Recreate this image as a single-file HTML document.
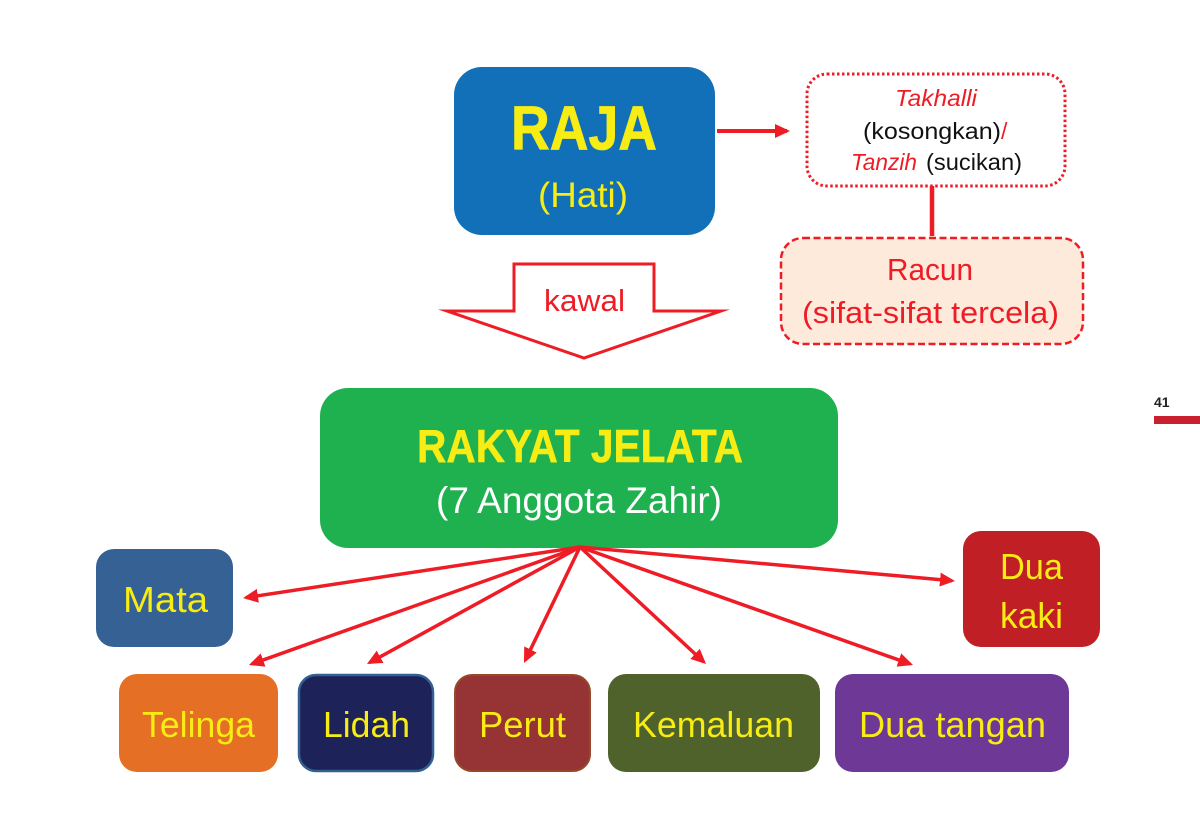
<!DOCTYPE html>
<html>
<head>
<meta charset="utf-8">
<style>
html,body{margin:0;padding:0;background:#fff;width:1200px;height:834px;overflow:hidden}
svg{display:block}
text{font-family:"Liberation Sans",sans-serif}
</style>
</head>
<body>
<svg width="1200" height="834" viewBox="0 0 1200 834" xmlns="http://www.w3.org/2000/svg">
<defs>
<marker id="h" markerUnits="userSpaceOnUse" markerWidth="16" markerHeight="14" refX="12" refY="7" orient="auto">
<polygon points="0,0 15,7 0,14" fill="#ee1c25"/>
</marker>
</defs>

<rect x="454" y="67" width="261" height="168" rx="28" fill="#1170b8"/>
<text x="511" y="149.5" font-size="62" font-weight="bold" fill="#f7ec13" stroke="#f7ec13" stroke-width="0.8" textLength="146" lengthAdjust="spacingAndGlyphs">RAJA</text>
<text x="538" y="207" font-size="35" fill="#f7ec13" textLength="90" lengthAdjust="spacingAndGlyphs">(Hati)</text>

<line x1="717" y1="131" x2="787" y2="131" stroke="#ee1c25" stroke-width="4" marker-end="url(#h)"/>

<rect x="807" y="74" width="258" height="112" rx="20" fill="#fff" stroke="#ee1c25" stroke-width="3" stroke-dasharray="2.5 2.5"/>
<text x="895" y="106" font-size="23" font-style="italic" fill="#ee1c25" textLength="82" lengthAdjust="spacingAndGlyphs">Takhalli</text>
<text x="863" y="139" font-size="23" fill="#111" textLength="138" lengthAdjust="spacingAndGlyphs">(kosongkan)</text>
<text x="1001" y="139" font-size="23" fill="#ee1c25">/</text>
<text x="851" y="170" font-size="23" font-style="italic" fill="#ee1c25" textLength="66" lengthAdjust="spacingAndGlyphs">Tanzih</text>
<text x="926" y="170" font-size="23" fill="#111" textLength="96" lengthAdjust="spacingAndGlyphs">(sucikan)</text>

<line x1="932" y1="186" x2="932" y2="236" stroke="#ee1c25" stroke-width="4.5"/>

<rect x="781" y="238" width="302" height="106" rx="22" fill="#fdeada" stroke="#ee1c25" stroke-width="2.5" stroke-dasharray="7 3.5"/>
<text x="887" y="280" font-size="31" fill="#ee1c25" textLength="86" lengthAdjust="spacingAndGlyphs">Racun</text>
<text x="802" y="323" font-size="31" fill="#ee1c25" textLength="257" lengthAdjust="spacingAndGlyphs">(sifat-sifat tercela)</text>

<polygon points="514,264 654,264 654,311 721,311 584,358 447,311 514,311" fill="#fff" stroke="#ee1c25" stroke-width="3" stroke-miterlimit="10"/>
<text x="544" y="311" font-size="31" fill="#ee1c25" textLength="81" lengthAdjust="spacingAndGlyphs">kawal</text>

<rect x="320" y="388" width="518" height="160" rx="28" fill="#1fb050"/>
<text x="417" y="462" font-size="46" font-weight="bold" fill="#f7ec13" stroke="#f7ec13" stroke-width="0.5" textLength="326" lengthAdjust="spacingAndGlyphs">RAKYAT JELATA</text>
<text x="436" y="513" font-size="37" fill="#fff" textLength="286" lengthAdjust="spacingAndGlyphs">(7 Anggota Zahir)</text>

<rect x="96" y="549" width="137" height="98" rx="18" fill="#356195"/>
<text x="123" y="612" font-size="36" fill="#f7ec13" textLength="85" lengthAdjust="spacingAndGlyphs">Mata</text>

<rect x="963" y="531" width="137" height="116" rx="18" fill="#c01f26"/>
<text x="1000" y="579" font-size="36" fill="#f7ec13" textLength="63" lengthAdjust="spacingAndGlyphs">Dua</text>
<text x="1000" y="628" font-size="36" fill="#f7ec13" textLength="63" lengthAdjust="spacingAndGlyphs">kaki</text>

<rect x="119" y="674" width="159" height="98" rx="18" fill="#e46f25"/>
<text x="142" y="737" font-size="36" fill="#f7ec13" textLength="113" lengthAdjust="spacingAndGlyphs">Telinga</text>

<rect x="299" y="675" width="134" height="96" rx="17" fill="#1d2359" stroke="#335f91" stroke-width="2.5"/>
<text x="323" y="737" font-size="36" fill="#f7ec13" textLength="87" lengthAdjust="spacingAndGlyphs">Lidah</text>

<rect x="455" y="675" width="135" height="96" rx="17" fill="#953335" stroke="#95492a" stroke-width="2"/>
<text x="479" y="737" font-size="36" fill="#f7ec13" textLength="87" lengthAdjust="spacingAndGlyphs">Perut</text>

<rect x="608" y="674" width="212" height="98" rx="18" fill="#4f622c"/>
<text x="633" y="737" font-size="36" fill="#f7ec13" textLength="161" lengthAdjust="spacingAndGlyphs">Kemaluan</text>

<rect x="835" y="674" width="234" height="98" rx="18" fill="#6d3896"/>
<text x="859" y="737" font-size="36" fill="#f7ec13" textLength="187" lengthAdjust="spacingAndGlyphs">Dua tangan</text>

<g stroke="#ee1c25" stroke-width="3.5" fill="none">
<line x1="580" y1="547" x2="246" y2="597.6" marker-end="url(#h)"/>
<line x1="580" y1="547" x2="251.8" y2="664" marker-end="url(#h)"/>
<line x1="580" y1="547" x2="369.6" y2="662.6" marker-end="url(#h)"/>
<line x1="580" y1="547" x2="525.3" y2="660.3" marker-end="url(#h)"/>
<line x1="580" y1="547" x2="703.8" y2="662" marker-end="url(#h)"/>
<line x1="580" y1="547" x2="910.2" y2="664" marker-end="url(#h)"/>
<line x1="580" y1="547" x2="952" y2="580.7" marker-end="url(#h)"/>
</g>

<text x="1154" y="407" font-size="14" font-weight="bold" fill="#222">41</text>
<rect x="1154" y="416" width="46" height="8" fill="#c8202f"/>
</svg>
</body>
</html>
